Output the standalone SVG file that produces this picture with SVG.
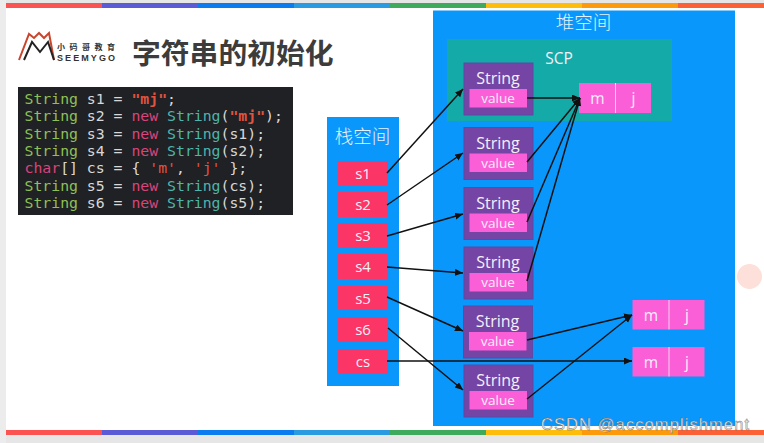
<svg xmlns="http://www.w3.org/2000/svg" width="764" height="443" viewBox="0 0 764 443">
<defs>
<marker id="ah" markerUnits="userSpaceOnUse" markerWidth="9" markerHeight="8" refX="8" refY="3.5" orient="auto"><path d="M0,0L8,3.5L0,7Z" fill="#111"/></marker>
</defs>
<style>
.s{font-family:"Open Sans","Noto Sans",sans-serif;fill:#f4f0fa;text-anchor:middle}
.cn{font-family:"Noto Sans CJK SC",sans-serif;font-weight:300;fill:#e4f2ff;text-anchor:middle;font-size:18.500px}
.str{fill:#7445a4;stroke:#5b4aa6;stroke-width:1}
.val{fill:#fb5fd8}
.ref{fill:#fb3565}
.arr{fill:#fb5fd8}
.div{stroke:#fbd0f0;stroke-width:1}
.code{font-family:"DejaVu Sans Mono","Liberation Mono",monospace;font-size:14.800px;fill:#d8d8d8;white-space:pre}
.g{fill:#8fc056}.p{fill:#d9447c}.t{fill:#4db5ad}.r{fill:#e2533f}
.c line,.c path{stroke:#111;stroke-width:1.500;fill:none;marker-end:url(#ah)}
</style>
<rect width="764" height="443" fill="#ffffff"/>
<rect x="0" y="0" width="764" height="3" fill="#e6e6e6"/>
<rect x="0" y="435" width="764" height="8" fill="#e6e6e6"/>
<rect x="0" y="0" width="6" height="443" fill="#ececec"/>
<g id="bar-top">
<rect x="6" y="3" width="96" height="5" fill="#fb5252"/><rect x="102" y="3" width="96" height="5" fill="#5b5bd6"/><rect x="198" y="3" width="96" height="5" fill="#0a7cf0"/><rect x="294" y="3" width="96" height="5" fill="#2a9be0"/><rect x="390" y="3" width="96" height="5" fill="#3fa95c"/><rect x="486" y="3" width="96" height="5" fill="#fdbd0a"/><rect x="582" y="3" width="96" height="5" fill="#fd9a0c"/><rect x="678" y="3" width="86" height="5" fill="#fb6135"/>
</g>
<g id="bar-bottom">
<rect x="6" y="430" width="96" height="5" fill="#fb5252"/><rect x="102" y="430" width="96" height="5" fill="#5b5bd6"/><rect x="198" y="430" width="96" height="5" fill="#0a7cf0"/><rect x="294" y="430" width="96" height="5" fill="#2a9be0"/><rect x="390" y="430" width="96" height="5" fill="#3fa95c"/><rect x="486" y="430" width="96" height="5" fill="#fdbd0a"/><rect x="582" y="430" width="96" height="5" fill="#fd9a0c"/><rect x="678" y="430" width="86" height="5" fill="#fb6135"/>
</g>
<g id="logo">
<path d="M19,60L29,34L34,38L39,33L44,38L49,33L54,60" fill="none" stroke="#c9452c" stroke-width="2"/>
<path d="M24,60L32,42L40,52L48,42L54,60" fill="none" stroke="#222" stroke-width="2"/>
<text x="57" y="50" font-family="Noto Sans CJK SC,sans-serif" font-size="8" font-weight="700" fill="#333" textLength="58">小码哥教育</text>
<text x="57" y="61" font-family="Liberation Sans,sans-serif" font-size="9" font-weight="700" fill="#333" textLength="58">SEEMYGO</text>
</g>
<text id="title" x="132" y="64" font-family="Noto Sans CJK SC,sans-serif" font-size="28.800" font-weight="700" fill="#3c3c3c">字符串的初始化</text>
<g id="code">
<rect x="18" y="87" width="275" height="128" fill="#202124"/>
<text class="code" x="24.500" y="104"><tspan class="g">String</tspan> s1 = <tspan class="r" font-weight="700">"mj"</tspan>;</text>
<text class="code" x="24.500" y="121"><tspan class="g">String</tspan> s2 = <tspan class="p">new</tspan> <tspan class="t">String</tspan>(<tspan class="r" font-weight="700">"mj"</tspan>);</text>
<text class="code" x="24.500" y="138.500"><tspan class="g">String</tspan> s3 = <tspan class="p">new</tspan> <tspan class="t">String</tspan>(s1);</text>
<text class="code" x="24.500" y="156"><tspan class="g">String</tspan> s4 = <tspan class="p">new</tspan> <tspan class="t">String</tspan>(s2);</text>
<text class="code" x="24.500" y="173"><tspan class="p">char</tspan>[] cs = { <tspan class="r">'m'</tspan>, <tspan class="r">'j'</tspan> };</text>
<text class="code" x="24.500" y="190.500"><tspan class="g">String</tspan> s5 = <tspan class="p">new</tspan> <tspan class="t">String</tspan>(cs);</text>
<text class="code" x="24.500" y="207.500"><tspan class="g">String</tspan> s6 = <tspan class="p">new</tspan> <tspan class="t">String</tspan>(s5);</text>
</g>
<circle cx="749.500" cy="276.500" r="12.500" fill="#fde0da"/>
<g id="stack">
<rect x="327" y="117" width="72" height="269" fill="#0a97fb"/>
<text class="cn" x="362.500" y="143">栈空间</text>
</g>
<g id="heap">
<rect x="433" y="10.500" width="302" height="415.500" fill="#0a97fb"/>
<text class="cn" x="583.500" y="29">堆空间</text>
</g>
<g id="scp">
<rect x="447" y="39" width="225" height="82" fill="#14aaa8"/>
<text class="s" x="559" y="63.500" font-size="15.500">SCP</text>
</g>
<g id="s1"><rect class="ref" x="338" y="161" width="50" height="25"/><text class="s" x="363" y="179" font-size="15">s1</text></g>
<g id="s2"><rect class="ref" x="338" y="192" width="50" height="25"/><text class="s" x="363" y="210" font-size="15">s2</text></g>
<g id="s3"><rect class="ref" x="338" y="223" width="50" height="25"/><text class="s" x="363" y="241" font-size="15">s3</text></g>
<g id="s4"><rect class="ref" x="338" y="254" width="50" height="25"/><text class="s" x="363" y="272" font-size="15">s4</text></g>
<g id="s5"><rect class="ref" x="338" y="286" width="50" height="24"/><text class="s" x="363" y="304" font-size="15">s5</text></g>
<g id="s6"><rect class="ref" x="338" y="317" width="50" height="25"/><text class="s" x="363" y="335" font-size="15">s6</text></g>
<g id="cs"><rect class="ref" x="338" y="349" width="50" height="25"/><text class="s" x="363" y="367" font-size="15">cs</text></g>
<g id="str0"><rect class="str" x="464" y="63" width="69" height="52"/><text class="s" x="498" y="84" font-size="16">String</text><rect class="val" x="469.500" y="89" width="57.500" height="18.500"/><text class="s" x="498" y="103" font-size="13.500">value</text></g>
<g id="str1"><rect class="str" x="464" y="127.500" width="69" height="52"/><text class="s" x="498" y="148.500" font-size="16">String</text><rect class="val" x="469.500" y="153.500" width="57.500" height="18.500"/><text class="s" x="498" y="167.500" font-size="13.500">value</text></g>
<g id="str2"><rect class="str" x="464" y="187.500" width="69" height="52"/><text class="s" x="498" y="208.500" font-size="16">String</text><rect class="val" x="469.500" y="213.500" width="57.500" height="18.500"/><text class="s" x="498" y="227.500" font-size="13.500">value</text></g>
<g id="str3"><rect class="str" x="464" y="247" width="69" height="52"/><text class="s" x="498" y="268" font-size="16">String</text><rect class="val" x="469.500" y="273" width="57.500" height="18.500"/><text class="s" x="498" y="287" font-size="13.500">value</text></g>
<g id="str4"><rect class="str" x="463.500" y="306" width="69" height="52"/><text class="s" x="497.500" y="327" font-size="16">String</text><rect class="val" x="469" y="332" width="57.500" height="18.500"/><text class="s" x="497.500" y="346" font-size="13.500">value</text></g>
<g id="str5"><rect class="str" x="464" y="365" width="69" height="52"/><text class="s" x="498" y="386" font-size="16">String</text><rect class="val" x="469.500" y="391" width="57.500" height="18.500"/><text class="s" x="498" y="405" font-size="13.500">value</text></g>
<g id="arr0"><rect class="arr" x="579" y="83" width="72" height="30"/><line class="div" x1="615.500" y1="83" x2="615.500" y2="113"/><text class="s" x="597.500" y="104" font-size="15.500">m</text><text class="s" x="633.500" y="104" font-size="15.500">j</text></g>
<g id="arr1"><rect class="arr" x="632.500" y="300" width="72" height="29.500"/><line class="div" x1="669" y1="300" x2="669" y2="329.500"/><text class="s" x="651" y="321" font-size="15.500">m</text><text class="s" x="687" y="321" font-size="15.500">j</text></g>
<g id="arr2"><rect class="arr" x="632.500" y="347" width="72" height="29.500"/><line class="div" x1="669" y1="347" x2="669" y2="376.500"/><text class="s" x="651" y="368" font-size="15.500">m</text><text class="s" x="687" y="368" font-size="15.500">j</text></g>
<g id="connectors" class="c">
<line x1="387" y1="173" x2="463" y2="89"/>
<line x1="387" y1="205" x2="463" y2="153"/>
<line x1="387" y1="236" x2="463" y2="214"/>
<line x1="387" y1="267" x2="463" y2="273"/>
<line x1="387" y1="297" x2="463" y2="331"/>
<line x1="388" y1="328" x2="463" y2="390"/>
<line x1="387" y1="361" x2="632" y2="361"/>
<line x1="527" y1="98" x2="580" y2="98"/>
<line x1="527" y1="162" x2="580" y2="98"/>
<line x1="527" y1="222" x2="580" y2="98"/>
<line x1="527" y1="281" x2="580" y2="98"/>
<line x1="527" y1="340" x2="632" y2="315"/>
<line x1="527" y1="399" x2="632" y2="315"/>
</g>
<text id="watermark" x="541" y="430" font-family="Liberation Sans,sans-serif" font-size="16.500" fill="#ececec" stroke="#666" stroke-width="0.400" textLength="208">CSDN @accomplishment</text>
</svg>
